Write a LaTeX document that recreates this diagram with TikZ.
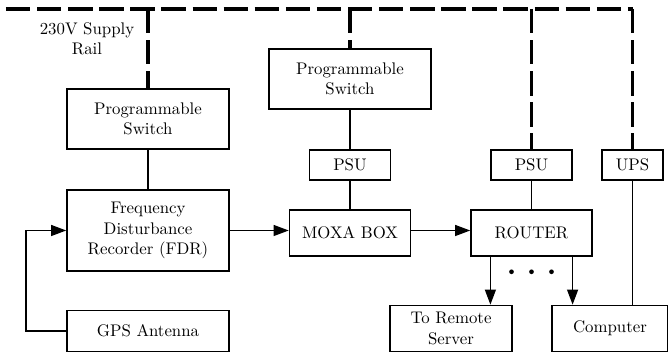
\documentclass[tikz,border=0pt]{standalone}
\usepackage{tikz}
\usetikzlibrary{arrows.meta}
\begin{document}
\begin{tikzpicture}[x=0.595pt,y=-0.595pt,
    blk/.style={draw,line width=0.9pt,align=center,inner sep=0pt},
    wire/.style={line width=0.9pt},
    sig/.style={line width=0.9pt,-{Triangle[length=9pt,width=6.5pt]}},
    rail/.style={line width=1.8pt,dash pattern=on 14.5pt off 4pt}]
    \useasboundingbox (0,0) rectangle (668,354);
    \node[blk,minimum width=96.4pt,minimum height=35.7pt] (swA) at (148,119) {Programmable\\Switch};
    \node[blk,minimum width=96.4pt,minimum height=48.2pt] (fdr) at (148,230.5) {Frequency\\Disturbance\\Recorder (FDR)};
    \node[blk,minimum width=96.4pt,minimum height=24.4pt] (gps) at (148,331) {GPS Antenna};
    \node[blk,minimum width=96.4pt,minimum height=35.7pt] (swB) at (350,79) {Programmable\\Switch};
    \node[blk,minimum width=48.2pt,minimum height=17.9pt] (psuA) at (350,165) {PSU};
    \node[blk,minimum width=72pt,minimum height=27.4pt] (moxa) at (350,233) {MOXA BOX};
    \node[blk,minimum width=48.2pt,minimum height=17.9pt] (psuB) at (531.5,165) {PSU};
    \node[blk,minimum width=72pt,minimum height=27.4pt] (router) at (531.5,233) {ROUTER};
    \node[blk,minimum width=36.3pt,minimum height=17.9pt] (ups) at (632.5,165) {UPS};
    \node[blk,minimum width=72.6pt,minimum height=27.4pt] (remote) at (451,328.5) {To Remote\\Server};
    \node[blk,minimum width=69pt,minimum height=27.4pt] (comp) at (610,328.5) {Computer};
    \node[align=center] (lbl) at (87,39) {230V Supply\\Rail};
    \coordinate (railL) at (6,9);
    \coordinate (railR) at (632.5,9);
    \draw[rail] (railL) -- (railR);
    \draw[rail] (swA.north |- railL) -- (swA.north);
    \draw[rail] (swB.north |- railL) -- (swB.north);
    \draw[rail] (psuB.north |- railL) -- (psuB.north);
    \draw[rail] (ups.north |- railL) -- (ups.north);
    \draw[wire] (swA) -- (fdr);
    \draw[wire] (swB) -- (psuA);
    \draw[wire] (psuA) -- (moxa);
    \draw[wire] (psuB) -- (router);
    \draw[wire] (ups.south) -- (ups.south |- comp.north);
    \draw[sig] (gps.west) -- ++(-40,0) |- (fdr.west);
    \draw[sig] (fdr.east) -- (fdr.east -| moxa.west);
    \draw[sig] (moxa.east |- fdr.east) -- (fdr.east -| router.west);
    \draw[sig] ([xshift=12pt]router.south west) -- ([xshift=12pt]router.south west |- remote.north);
    \draw[sig] ([xshift=-12pt]router.south east) -- ([xshift=-12pt]router.south east |- comp.north);
    \foreach \dx in {-20,0,20}
        \fill ([xshift=\dx*0.595pt]router.south) ++(0,15) circle (1.4pt);
\end{tikzpicture}
\end{document}
